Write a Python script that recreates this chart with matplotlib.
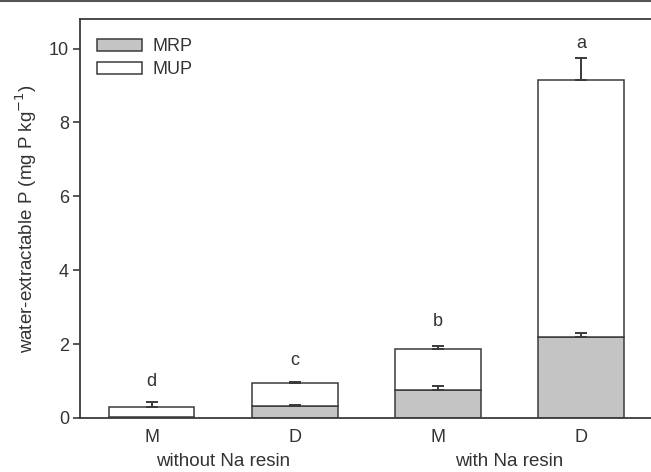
import matplotlib
matplotlib.use("Agg")

import numpy as np
import matplotlib.pyplot as plt
from matplotlib.lines import Line2D
from matplotlib.patches import Patch

# ── data ────────────────────────────────────────────────────
treatments = ["M", "D", "M", "D"]
groups     = ["without Na resin", "with Na resin"]
mrp        = [0.04, 0.33, 0.77, 2.20]
mrp_err    = [0.00, 0.03, 0.10, 0.11]
total      = [0.31, 0.94, 1.86, 9.14]
total_err  = [0.13, 0.03, 0.10, 0.60]
letters    = ["d", "c", "b", "a"]
letter_y   = [0.98, 1.55, 2.62, 10.14]

plt.rcParams["font.family"] = ["Liberation Sans", "DejaVu Sans"]
TXT = "#333333"
EDGE = "#3a3a3a"
GRAY = "#c4c4c4"

fig = plt.figure(figsize=(6.51, 4.72), dpi=100)
ax = fig.add_axes([80 / 651, 1 - 418 / 472, 1.0 - 80 / 651 + 0.002, (418 - 19) / 472])

x = np.arange(len(treatments))
mup = np.array(total) - np.array(mrp)

ax.bar(x, mrp, width=0.6, color=GRAY, edgecolor=EDGE, linewidth=1.1, zorder=2)
ax.bar(x, mup, bottom=mrp, width=0.6, color="white", edgecolor=EDGE,
       linewidth=1.1, zorder=2)

# upward-only error bars
for xi, m, me, t, te in zip(x, mrp, mrp_err, total, total_err):
    if me > 0:
        ax.errorbar(xi, m, yerr=[[0], [me]], fmt="none", ecolor=EDGE,
                    elinewidth=1.4, capsize=4.5, capthick=1.4, zorder=3)
    ax.errorbar(xi, t, yerr=[[0], [te]], fmt="none", ecolor=EDGE,
                elinewidth=1.4, capsize=4.5, capthick=1.4, zorder=3)

for xi, lab, ly in zip(x, letters, letter_y):
    ax.text(xi, ly, lab, ha="center", va="center", fontsize=13, color=TXT)

ax.set_xlim(-0.5, 3.5)
ax.set_ylim(0, 10.8)
ax.set_yticks([0, 2, 4, 6, 8, 10])
ax.set_xticks(x)
ax.set_xticklabels(treatments)
ax.tick_params(axis="x", length=0, pad=8, labelsize=13, labelcolor=TXT)
ax.tick_params(axis="y", direction="out", length=5, width=1.2, color=EDGE,
               labelsize=13, labelcolor=TXT, pad=3)

for side in ["left", "bottom", "top"]:
    ax.spines[side].set_color(EDGE)
    ax.spines[side].set_linewidth(1.3)
ax.spines["right"].set_visible(False)

# group labels under the tick labels
for gi, g in enumerate(groups):
    ax.text(gi * 2 + 0.5, -0.11, g, transform=ax.get_xaxis_transform(),
            ha="center", va="center", fontsize=13.5, color=TXT)

ax.set_ylabel("water-extractable P (mg P kg$^{-1}$)", fontsize=13.5,
              color=TXT, labelpad=7)

handles = [Patch(facecolor=GRAY, edgecolor=EDGE, linewidth=1.1, label="MRP"),
           Patch(facecolor="white", edgecolor=EDGE, linewidth=1.1, label="MUP")]
leg = ax.legend(handles=handles, loc="upper left", frameon=False,
                fontsize=13, handlelength=2.5, handleheight=0.65,
                handletextpad=0.55, labelspacing=0.35,
                bbox_to_anchor=(0.0, 0.995), borderaxespad=0.55)
for t in leg.get_texts():
    t.set_color(TXT)

# thin page border at the very top
fig.add_artist(Line2D([0, 1], [0.998, 0.998], transform=fig.transFigure,
                      color="#555555", linewidth=1.5))

fig.savefig("out.png", dpi=100)
